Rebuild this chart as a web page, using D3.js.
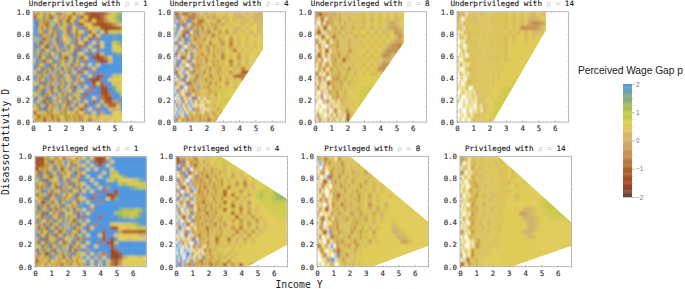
<!DOCTYPE html>
<html lang="en">
<head>
<meta charset="utf-8">
<script src="https://d3js.org/d3.v7.min.js"></script>
<style>
	html, body { margin: 0; background: white; }
	svg { display: block; }
	.tick text { font-family: 'DejaVu Sans Mono'; font-size: 7.4px; fill: #333; stroke: #333; stroke-width: .15px; }
	.title { font-family: 'DejaVu Sans Mono'; font-size: 7.6px; fill: #222; stroke: #222; stroke-width: .15px; text-anchor: middle; }
	.rho { fill: #ccc; stroke: none; }
	.axis-label { font-family: 'DejaVu Sans Mono'; font-size: 9.8px; fill: #222; text-anchor: middle; }
	.legend-title { font-family: 'Liberation Sans'; font-size: 10.2px; fill: #222; }
	.legend .tick text { font-family: 'Liberation Sans'; font-size: 6.5px; fill: #777; stroke: none; }
</style>
</head>
<body>
<svg id="chart" width="685" height="289"></svg>
<script>
// level strings, top row is D = 1. base 17 digit d means p = d / 4 - 2, "." means no value
// a short row carries its last value on to the right
const under1 = [
	"3a4ca66a4aa83f4a6aca44a6a4323358bde","44accf6a42g8a4a66c43aa6g4a33247acee","ggf6a2a4cf8aa4g6a22ca4g6a64a4469bdf","fg2a6c44fa8g4a2cc6f48gg44aa4323468a",
	"fgga4882a6g4ffa8c4g2aa6fg5a9c322236","gg6ca4fg8a2c4gf6a44g8c2aag4aga49bcb","fffg4a86c2fa4gg8a6f4gc2a5ga3agfgfgg","gaf8g44c6gaf2g4aa8cf6g4aga4g5gggfgg",
	"fgc44fa66g8a2fg4c8ag6f2aa4gagaggbdf","g4gf8a22gc6fa4gg8f2ca6g45gag4aggabd","ffa6g4c88fg2a66g4cf8a2g4g9gaggggbac","gfa4f8gc2aa6fg4a8cc6g2faag4g39gggef",
	"f8g2ca6f4gga8g4c22fa6gf84ag3236aggg","agg6f44c8a2gf66a4g8cf2a6g5gg4239ggg","ff4ca8gg2f6ag4cc8fa2g6a4agagagggggg","gg8a2f6gc44af8g2a66fc4g8g4gaggggggg",
	"aa4gf6c2ag8ff4a6gc2f8ag45ag5ggggggg","fg6a2cf8g4a66f2gc8a4gf6aggag34ggbca","ffc4a8gg6f2ag4c6fa88g2a4ag422ggaaaa","aa8g4f2c66ag8f4a2gc6fa8g5gg3a4gga9a",
	"gg2ca6f8g44af2c6g8a4f2gcgag4g24geba","ff6a4gg8c2fa6g4cf88a2g6aag5gg32ggca","aa8fg2c4a66gf8c2a4gf6a8cg4ggg425ggc","f4gac6f2gg8a4cf6g2a8f4ca5ggag532ggg",
	"gfa8g44c2f6ag8a2c44f6ag8gag4g94366g","cc4fa8g2a66fc4g8a2f6ag4ca4ggag8449g","a8c4gg2fa4c88g6a2cf4g8a64gag5gg979g","44a8cca4c4a88c4a2ca8cc4aa6gag7ggaa9",
	"8a44a4c6a44a4c8a4c4a66a47a8a7aa9aaa","a4c6a22a6c4a44a8c2a6a4c669589a8aaaa"
]
const under4 = [
	"446a5546855879a86a8a7a9aa9a88a8a879","a4g7.6a556486a79a698699a89a988a98899","g.4a6.5gg69a55479aa8a966a8a9a98a889",".gg84g6.a558466a79a5a68a7a9aa8a9a99",
	"a6g..4a7g5a66a48a69a75a8a9a88a9aa89","8g.a6g44.a6g5a77a46a8a95a6a8a9a8a8a","g.8a44.g6a5a488a69a55a7a9a8a9a9a8a9",".a6g.4gg8a55a6a49a7a8aa59a6a9a9aaa9",
	"gg8.a6g.4a8a5a69aa47a8a96a5a8a9a9aa","a.4g8..6a5g8a49a677a5a9a8a6a9a9a9a9",".g6a.g4a88.5a6a8a49a7a6a8a95a9a9aaa","g4.88a6.g5aa7a48a69a5a8a6a9a7a9aa9a",
	"8a.g44a.6g8a5a7a49aa6a8a5a9a6a9aaaa",".gg6.a8g4a.5a69a48a77a6a9a5a8a8a9aa","a4g.6a..8g5a4a6a89aa5a7a8a6a7a9aa9a","g.8a.g66.a4a5a8a6a49a7a5a9a8a5a9aaa",
	"44a.g8.a6g5a77a48a6a9a5a8a6a94479aab",".g6a.4g.a8a55a6a9a47a8a6a9a54589abb","a.88g4.a6a5g8a7a49a6a9a5a8a9a689abb","g6.a.8g44a5a6a8a7a49a5a9a6a9aaaaabb",
	"8.a4g..6a5a8g7a6a4a9a8a6a9a9aaabbb",".g6a.8.4a55a6a9a8a5a7a9a9aaaaabb","g.88.a4g6.a5a7a8a6a9a5aabaaaabb",".a.g6.8a.4g5.a7.a6a9a8aabbbabb",
	"g.8.4a.g.6a.5a.8a.a9a9aabbaabb",".4.g.a6.g.a.8.a.5b9a7ba8babbbabb","a.g.6.8a.g5a4.9.a.8a9a6bab7bb",".g.8.g.a6a.5a7.a5a8a5a9a6bbabb",
	"g.4a.6g8a5a6a4a7a5a9a6a8a6bb","64.a4a55a4a6a4a5a44a6a5a7a4ab6baabb"
]
const under8 = [
	"6644a5a7886a79a88a98a8a99a9a9a9a9a9","6.a47.886a7a68a9a78a9a8a9a8a9a9a89a","a..5.a4a68aa79a6a8a98a9a8a9a9a878aa",".6a.44a.7a69a778a9a6a9a89a8a9a8778a",
	"a44.a.6a8a7a69a88a7a9a8aa9a8a89a67a",".a.55a.8a46a9a7a8a9a88a99a9a9a9a96a","66.a.a4a.7a68a99a6a8a9a8a9a9a9a977b",".a4.a..6a7a4a9a8a7a9a8a99a9a9a8665b",
	"a.6a.44.a8a6a7a9a66a8a9aa9a9a86669b",".44a.6a.5a7a4a8a6a9a8a9a9a9a966899b","6a.4..a.6a5a8a44a7a9a8a9a9a9a889abb","a.4a.66a.4a7a6a9a8a7a9a99a9a8669abb",
	".a6.4a.a5aa6a8a7a4a9a8a9a9a9669abbb","66.a.a4.6a7a5a8a6a9a7a9a9a99a9aabbb",".a4.6a..a5a4a7a6a9a8a9aaaaaabbbbbbb","a.6.a.44a6a7a5a8a6a9a9aaaaaabbbbbb",
	".4a.a.6.a5a7a6a9a8a9aaaabbbb","a..6.a.4a7a5a8a6a9aa9aabbb",".a.4..a.a6a4a7a6a9aaaabb","a...6.4.a.7a.5a8a9a9aabb",
	"..a...a.6.a.a9a8a9a9aabb",".a..a.6..a4a.8a94a9aaabb",".4.a..a.6.a7.9a.24a9abbb","a.4.a.6a.7a.8a.a14a9aabb"
]
const under14 = [
	"77a6.a9a8a9a88a9a9a99a9a9a9a9a98a99a","7a..8a9a88a9a9a9a99a9a9a9a9a9a889aa","a9.7aa9a9a89a9a9a9a99a9a9a9a9a76678a","9a8.99a9a9a9a9a9aa9a9a9a9a9a666679a",
	".a.a9a8a9a99a9a9a9a9a9a9a9a9a9a899aa",".9aa.7a9a9a9a99a9a9a9a9a9a9aa9a9aaa","..a.99a8a9a9a9a9a99a9a9a9a9aa9aaaab",".aa..9a9a99a9a9a9a9a9a9a9aaaaaaaaab",
	"..9a.7a9a9a99a9a9a9a9a9a9aaaaaaaabb",".a.9..a9a9a9a9a99a9a9a9a9aaaaaaaabb","a..aa7a9a9a9a9a9a9a9a9aa9aaaaaaabbb",".99.a.a9a8a9a9a9a9a9a9aaaaaaaabbbb",
	"a...9a7a9a9a9a9a9a9a9aa9aaaaaabbb",".aa.a.9a8a9a9a9a9a9aa9aaaaaabbbb","..9..a8a9a9a9a9a9a9aa9aaaaabbbb",".a..aa7a9a9a9a9a9a9aaaaaaabbbb",
	"a.a.9a..a9a9a9a9aa9aaaaabbb","..aa.a.9.a8a9a9a9aaaaabbb",".9...a.aa.9a8a9aa9aaabbb","a..a..9.a.a8a9aaaaabbb",
	"...a.a.a..9a.7a9aaabbb",".a...9..a.a9.a7aaabbb","..a..aa.a9a8a9aabbb",".a..a..9a8a9a9aabbb"
]
const priv1 = [
	"33424a4cca46ca44a6caa4a6aga323aggggggggg","13433a6g44ac4a8gga4c6a8ggag424gagggggggg","44252c4a8g66a4cg8a4ff6a8agag3gaggggggggg","22a4c66a8g4fa22c8g4a6cf4gagagggagggggggg",
	"a44g6c2ff8a4g6c4aa8fg2a6aggggagccggggggg","66g2a8c44fa6g2c88a4gf6a2gaggaggbaceggggg","a8ff4g2c6aa8g4fa2g6c8a4gggagggcceaaabceg","4c8a66g2fa4c8gg6a2f4gc6aaggagggggcdbaabc",
	"g4a2c6ff8a44g2c6fa8g4c2agaggag6gggggedcc","a8c4gg6a2fc8a4g66f2ca8g4agagg4gg2ggggggg","f2a6c8g44a2f6g8c4aa6f2g8ggg5gg124ggggggg","aa6c4g2f8a6gg4c2a8f6g4caag4ggga3eggggggg",
	"g8a22f6c4g8a2fc6gg4a8f2cgagg5ggggggggggg","c4g66a2f8c4a6g2f88c4a6gfggaggggggggggggg","a2ff8c6g4a2f66c8g4af2c8gag6ggggggedddcdf","f6a44g2c8f6a4g2cc8af6g2cgaggggggddccbceg",
	"a8c2f6gg4a8c2f6ga4c88f2g5ggg4ggggeddcdfg","g4f8aa2c6g4f8a2cg6a44f8cgagggggggggggggg","c66a4g8f2c6a4gg8fa2c6g4fagg5gggaaabbcdfg","a2g6c44f8a2g6c4af8gg2c6ag4agggg33aa9abcc",
	"f8c2aa6g4f8c22a6gf4a8c2gagggg4ggg7444434","gg4a8f2c6g44a8f2cg6a4f8cgagga4ggaaaaaa88","a6f2g44c8a6f2g4ca88f6g2c5gggg3g2gaa9aaaa","c2g8a4ff6c2g8a44fc6g2a8fgagg5g32cggggggg",
	"aa8f4c6g2a8ff4c6ag2f8c4aaggaggg3gggggggg","g2a66f8c4g2a6f8gc44a2f6gg6ggggg24ggggggg","a4g8c22f6a4g8c2af6gg4c8aagag75g113ggfggg","66a8c6a4gg8a6c44ag4a8c6agag8gag2137aaa9a",
	"44a6a8c4aa6a4c8a4c66a4a8agag8ga536aaaaaa","3a6aa4a8c6a4a44a6c4a8a4c7gagag9537aaaaaa"
]
const priv4 = [
	"24b77a6a855aa9a88abaabcbbbbbbbbbbbbbbbbb","336g4.a66a57a96a8aaabaabbbbbbbbbbbbbbbbb","4.g66a.5a44a7a8a6a9a8aab9abbbbbbbbbbbbbb","gg4.a6g..5a7aa4a8a5a7a9a8abaabbbbbbbbbbb",
	".a66g.44a8.5a4a77a5a8a6a9a8a9aabaabbbbb","a.88g4..a6g5a6a44a7a5a8a9a7a9aabaabbbbb","g4.6a..g8a4a55a7a4a8a6a5a8a9a7a9aabaabbb",".66a.8g.4a6a5a4a77a5a8a4a9a6a5a9aabbbcc",
	"a.g44.a6.g8a4a55a7a4a6a8a5a9a7a8aabbccd","g6..8a.4g.a55a6a4a7a5a8a4a9a6a9abccbcdd",".a4.gg6.a8a5a4a77a5a6a8a4a5a9a7abdbbcde","4g.88.a6g.5a6a4a7aa4a8a5a9a6a8aabcbbcdd",
	".a66.g4a.8a5a44a6a7a5a8a4a7a9a6aabbbccc","g.8a.66g4.a5a7a4a66a8a5a9a4a7a8a9abbbbb","a4..g.8a6.a55a4a7a5a6a8a4a9a5a7a9aabbb",".g6.aa.4g8a5a7a44a6a5a8a9a4a7a6a9aaabb",
	"8.a44.g6.a5a4a6a77a5a8a6a9a4a8a6a9aaab",".g..6a.8g4a5a7a4a66a8a5a9a7a6a8a6a9aaa","a6.g.44a.8a5a4a7a6a55a8a6a9a7a6a8a9aaa",".4g.8..a6.a5a7a44a6a8a5a9a6a5a8a7a9aaa",
	"g.a.66g.4a8a5a6a4a7a88a6a9a5a7a6a8aaa",".8..g4.a.6a55a7a4a8a6a5a9a7a8a6a9aaaa","a.6.aa.8g4.a5a6a7a8a44a9a5a8a7a9aaaa",".g.4.8a..6g.5a7a4a8a66a9a7a8a9a9aaa",
	"g.8.a.g.a4.66a.a5a8a7a9a8a9a9aaaa",".g..g.8.a.6.a.55a4a7a9a9aa9aaaa",".f.a.gg.4.a.6.a8a5a9a7a9a8a9aaaa","g.g..g.8a.6a.g4a7a5a9a6a8a9aaa",
	"f.4.g.a6g.5a44a6a4a7a5a8a6a9aaa","6gg.4a55a3a6a4a6a44a3a6a3a6a4ab5a8aaa"
]
const priv8 = [
	"77a93a8a9.a4a9a8a99a9aa4a9aa9aaa",".g.77a5a9a8a66a9a8a9a6a9a9aaaaa","a..5.a9a6a88a5a9a7a8a9a9aaa9aaaa",".a66..a4a8a7a5a99a6a8a9a7a9aaa9aa",
	"6..a.g55a8a4a9a6a8a7a9a9a8aa9aaaa",".a.44a.6a5a88a6a9a5a8a9a7a9aaa9aa","a.66.a..5a8a4a7a6a9a8a5a9a8a9aa9aaaabbbb",".4.a..a7a6a88a5a9a7a6a8a9a8a9aaaaaaabcccc",
	"a.a6..a.5a44a7a8a6a9a5a8a7a9aa9aaaaabcccb",".66.4a.a7a5a8a6a99a7a5a9a8a9aaaaaaaabcccb","a.a..6.a4a8a55a7a6a9a7a8a6a9a8aaaaaaabbbb",".5a.44.a7a6a9a5a88a7a6a9a8a7a9aaaaaaaaab",
	"6..a.a.4a8a5a7a9a66a8a5a9a7a8aaaaaaa",".a55.a6a.4a8a7a5a9a6a88a7a9a9aaaaaaa","a.4..a.a6a5a8a7a9a6a5a8a9a8aaaa9aaaa",".66.a.5a7a4a99a8a6a5a9a7a8a9aaa89aaaa",
	"a.a44.g6a8a5a7a9a66a8a5a9a7aaaa889aaa",".4..a.a55a6a8a7a5a9a8a6a9a9aaaaa889aa","a.a..4a.8a5a66a9a7a4a8a9a7a9aaaaa779aa","55a.6a.g..4a8a6a5a9a4a8a9aaaa",
	".a4a..a.5a44a7a9a8a6a9aaaa","..a66.a..ag5a7a4a9a8aa9aaa","...a.4agg.a8a5a9a9a8aaaa",".a..c.a7a..a9a6a8a7aa9aaa"
]
const priv14 = [
	"66a7.a8a9a99a9a9a9a9a99a9a9aaaa","5..a.9a7a9a8a9a9a99a9a9a9aa9aaaa",".a99.a6a9a7a9a99a9a9a9a9a9aaaa","66..a.9a7a9a8a9a9a9a99a9a9aa9aaa",
	"a.aa.a6a9a7a99a9a9a9a9a9a9aa9aaa",".9..a8a6a9a8a9a99a9a9a9a9aaa9aaa","a.a..a7a5a9a88a9a9a9a9a9aa9aaaa",".aa.a6a9a7a9a9a99a9a9a9a9aaaa",
	"6..a.a8a5a9a7a9a88a9a9a9aa9aaaaaabbbbbbb",".9.aa7a6a9a8a9a7a9a99a9aaa9aaaaabbcccccc","a.a..a5a8a9a6a9a9a8a9a9aaaaaaaaabcccccc",".a.99a7a6a9a8a9a7a9a9aaaaaaa889aabccccc",
	"a..a.a5a8a9a7a99a9a9a9aaaaa7789aabbbccc",".99.a6a7a9a8a9a9a9a9a9aaaaaa8889aabbbb","a.a..a5a9a7a9a88a9a9a9aaaaaaa889aaaaaa",".a.aa6a8a9a7a9a9a9a99aaaaaaaa889aaaaaa",
	"66.a.a5a9a8a9a7a9a9a9aaaaaaa889aaaa",".a..a7a9a8a99a9a9a9aaaaaaaaaa89aaa","a.a..a.8a5a9a9a9a99a9aaaa",".9...a.a66a9a9a8a9a9aaaa",
	"a.aa.a5a9a8a9a99aaa9aaaa","5..a.a4a9a9a99a9aaaa",".a.55a9a7a9a9aaaa","44a.4a9a8a9aaaa"
]

const rhoValues = [1, 4, 8, 14]
const groupNames = ["Underprivileged", "Privileged"]
const xTicks = [0, 1, 2, 3, 4, 5, 6]
const yTicks = [0, 0.2, 0.4, 0.6, 0.8, 1]
const legendTicks = [-2, -1, 0, 1, 2]

// outline of the region that has values, in data coordinates
const under1Region = [[0, 0], [5.47, 0], [5.47, 1], [0, 1]]
const under4Region = [[0, 0], [2.55, 0], [5.47, 0.66], [5.47, 1], [0, 1]]
const under8Region = [[0, 0], [2.06, 0], [5.47, 0.72], [5.47, 1], [0, 1]]
const under14Region = [[0, 0], [2.2, 0], [5.47, 0.835], [5.47, 1], [0, 1]]
const priv1Region = [[0, 0], [6.85, 0], [6.85, 1], [0, 1]]
const priv4Region = [[0, 0], [4.37, 0], [6.85, 0.2], [6.85, 0.61], [2.75, 1], [0, 1]]
const priv8Region = [[0, 0], [3.4, 0], [6.85, 0.19], [6.85, 0.405], [2.02, 1], [0, 1]]
const priv14Region = [[0, 0], [3.17, 0], [6.85, 0.19], [6.85, 0.4], [2.35, 1], [0, 1]]

const legendStops = [-2, -1.7, -1.5, -1, -0.5, 0, 0.25, 0.5, 1, 1.5, 2]
const legendColors = ["#5c4b3c", "#8f4526", "#9c4622", "#ae5f28", "#c28f4f", "#cfb26c", "#d6bb5c", "#e0cb56", "#c2c745", "#82ab78", "#4b94de"]

const panels = [
	{ grid: under1, region: under1Region, group: 0, rho: 0, left: 33, top: 11.7 },
	{ grid: under4, region: under4Region, group: 0, rho: 1, left: 174, top: 11.7 },
	{ grid: under8, region: under8Region, group: 0, rho: 2, left: 315, top: 11.7 },
	{ grid: under14, region: under14Region, group: 0, rho: 3, left: 457, top: 11.7 },
	{ grid: priv1, region: priv1Region, group: 1, rho: 0, left: 35, top: 156.3 },
	{ grid: priv4, region: priv4Region, group: 1, rho: 1, left: 176, top: 156.3 },
	{ grid: priv8, region: priv8Region, group: 1, rho: 2, left: 317, top: 156.3 },
	{ grid: priv14, region: priv14Region, group: 1, rho: 3, left: 460, top: 156.3 }
]

const panelWidth = 111.5
const panelHeight = 110.4
const xMax = 6.85

// columns are narrow on the left where the surface is noisy
const columnEdges = d3.range(25).map(i => i * 0.12).concat(d3.range(1, 17).map(i => 2.88 + i * 0.248125))
const columnCount = columnEdges.length - 1

const svg = d3.select("#chart")
const color = d3.scaleLinear().domain(legendStops).range(legendColors).clamp(true)

const defs = svg.append("defs")
defs.append("filter").attr("id", "soft")
	.attr("x", "-5%").attr("y", "-5%").attr("width", "110%").attr("height", "110%")
	.append("feGaussianBlur").attr("stdDeviation", 0.8)

const x = d3.scaleLinear().domain([0, xMax]).range([0, panelWidth])
const y = d3.scaleLinear().domain([0, 1]).range([panelHeight, 0])
const range = (a, b, step) => d3.range(Math.round((b - a) / step) + 1).map(i => a + i * step)

panels.forEach(function (p, i) {
	const g = svg.append("g").attr("transform", `translate(${p.left},${p.top})`)
	const clipId = "clip" + i
	const outline = d3.line().x(d => x(d[0])).y(d => y(d[1]))

	defs.append("clipPath").attr("id", clipId).append("path").attr("d", outline(p.region) + "Z")

	const rowHeight = 1 / p.grid.length
	const cells = []
	p.grid.forEach((row, r) => {
		row.padEnd(columnCount, row[row.length - 1]).split("").forEach((ch, c) => {
			if (ch !== "." && c < columnCount) cells.push({ c, r, value: parseInt(ch, 17) / 4 - 2 })
		})
	})

	g.append("g").attr("clip-path", `url(#${clipId})`)
		.append("g").attr("filter", "url(#soft)")
		.selectAll("rect").data(cells).join("rect")
		.attr("x", d => x(columnEdges[d.c]))
		.attr("y", d => y(1 - d.r * rowHeight))
		.attr("width", d => x(columnEdges[d.c + 1]) - x(columnEdges[d.c]) + 0.3)
		.attr("height", panelHeight * rowHeight + 0.3)
		.attr("fill", d => color(d.value))

	// frame, minor ticks on all sides, major ticks and labels on two
	g.append("rect").attr("width", panelWidth).attr("height", panelHeight)
		.attr("fill", "none").attr("stroke", "#aaa").attr("stroke-width", 0.8)

	const minor = sel => sel.call(a => a.select(".domain").remove())
		.call(a => a.selectAll("line").attr("stroke", "#999").attr("stroke-width", 0.5))

	g.append("g").attr("transform", `translate(0,${panelHeight})`)
		.call(d3.axisBottom(x).tickValues(range(0, 6.5, 0.25)).tickSize(-1).tickFormat("")).call(minor)
	g.append("g").call(d3.axisTop(x).tickValues(range(0, 6.5, 0.25)).tickSize(-1).tickFormat("")).call(minor)
	g.append("g").call(d3.axisLeft(y).tickValues(range(0, 1, 0.05)).tickSize(-1).tickFormat("")).call(minor)
	g.append("g").attr("transform", `translate(${panelWidth},0)`)
		.call(d3.axisRight(y).tickValues(range(0, 1, 0.05)).tickSize(-1).tickFormat("")).call(minor)

	g.append("g").attr("transform", `translate(0,${panelHeight})`)
		.call(d3.axisBottom(x).tickValues(xTicks).tickSize(-2).tickPadding(4).tickFormat(d3.format("d"))).call(minor)
	g.append("g")
		.call(d3.axisLeft(y).tickValues(yTicks).tickSize(-2).tickPadding(3).tickFormat(d3.format(".1f"))).call(minor)

	const title = g.append("text").attr("class", "title")
		.attr("x", panelWidth / 2 - 0.5).attr("y", -5.5)
	title.append("tspan").text(groupNames[p.group] + " with ")
	title.append("tspan").attr("class", "rho").text("ρ = ")
	title.append("tspan").text(rhoValues[p.rho])
})

svg.append("text").attr("class", "axis-label")
	.attr("transform", "translate(9,142) rotate(-90)").text("Disassortativity D")
svg.append("text").attr("class", "axis-label")
	.attr("x", 299).attr("y", 288).text("Income Y")

svg.append("text").attr("class", "legend-title").attr("x", 578).attr("y", 74).text("Perceived Wage Gap p")

// color bar
const legendScale = d3.scaleLinear().domain([-2, 2]).range([197, 84])
const legend = svg.append("g").attr("class", "legend")
legend.selectAll("rect").data(range(-2, 1.96, 0.04)).join("rect")
	.attr("x", 623).attr("width", 9)
	.attr("y", d => legendScale(d + 0.04))
	.attr("height", legendScale(0) - legendScale(0.04) + 0.3)
	.attr("fill", d => color(d + 0.02))

legend.append("g").attr("transform", "translate(632,0)")
	.call(d3.axisRight(legendScale).tickValues(range(-2, 2, 0.25)).tickSize(1.5).tickFormat(""))
	.call(a => a.select(".domain").remove())
	.call(a => a.selectAll("line").attr("stroke", "#aaa").attr("stroke-width", 0.5))
legend.append("g").attr("transform", "translate(632,0)")
	.call(d3.axisRight(legendScale).tickValues(legendTicks).tickSize(3).tickPadding(1)
		.tickFormat(d => d < 0 ? "\u2212" + (-d) : d))
	.call(a => a.select(".domain").remove())
	.call(a => a.selectAll("line").attr("stroke", "#999").attr("stroke-width", 0.5))
</script>
</body>
</html>
